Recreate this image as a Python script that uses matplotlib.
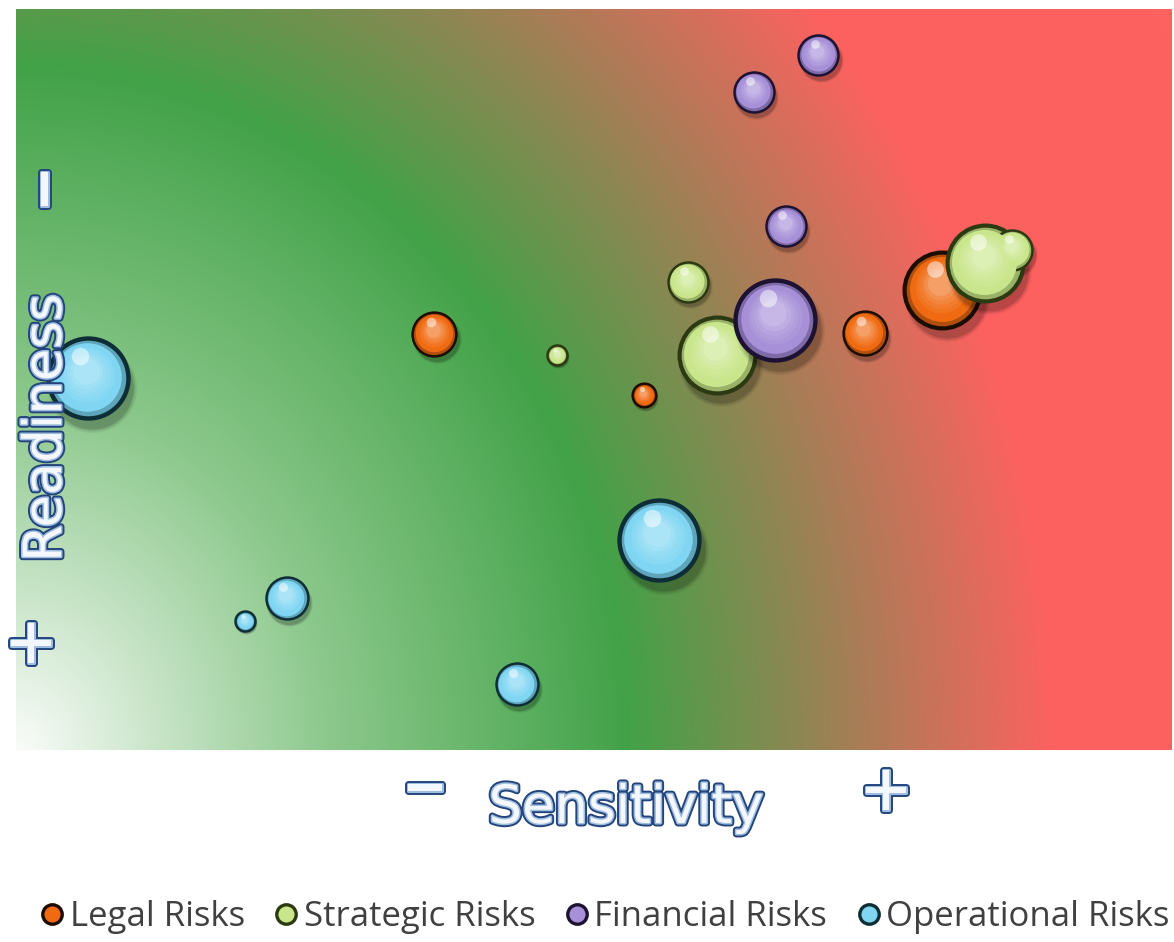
import numpy as np
import matplotlib
matplotlib.use("Agg")
import matplotlib.pyplot as plt
import matplotlib.patheffects as pe
from matplotlib.transforms import ScaledTranslation
from matplotlib.lines import Line2D

# ---- data -------------------------------------------------------------
series_names = ["Legal Risks", "Strategic Risks", "Financial Risks", "Operational Risks"]

legal_x = [36.2, 54.3, 73.4, 80.1]
legal_y = [56.2, 47.9, 56.3, 62.1]
legal_size = [4.8, 1.4, 4.8, 14.4]

strategic_x = [46.8, 58.1, 60.6, 83.8, 86.2]
strategic_y = [53.3, 63.2, 53.3, 65.7, 67.5]
strategic_size = [1.0, 4.0, 14.4, 14.4, 4.0]

financial_x = [63.8, 69.4, 66.6, 65.7]
financial_y = [88.8, 93.8, 70.7, 58.0]
financial_size = [4.0, 4.0, 4.0, 16.0]

operational_x = [6.2, 19.8, 23.4, 43.3, 55.6]
operational_y = [50.2, 17.4, 20.5, 8.9, 28.3]
operational_size = [16.0, 1.0, 4.4, 4.4, 16.0]

x_label = "Sensitivity"
y_label = "Readiness"

# ---- styling ----------------------------------------------------------
face_colors = ["#f06a12", "#c9e68c", "#a790d8", "#80d6f2"]
edge_colors = ["#1c0c02", "#2c3a12", "#1e1232", "#0e2e36"]
SIZE_SCALE = 207.0          # marker area (pt^2) per unit of bubble size

W, H, DPI = 11.74, 9.42, 100
fig = plt.figure(figsize=(W, H), dpi=DPI, facecolor="white")
ax = fig.add_axes([16 / 1174, 1 - 750 / 942, 1156 / 1174, 741 / 942])
ax.set_xlim(0, 100)
ax.set_ylim(0, 100)
ax.axis("off")

# ---- background: white -> green -> brown -> red path gradient ----------
nx, ny = 600, 400
gx = np.linspace(0, 100, nx)
gy = np.linspace(0, 100, ny)
GX, GY = np.meshgrid(gx, gy)
dx = GX * 11.56
dy = GY * 7.41
t = np.sqrt((dx / 624.0) ** 2 + (dy / 700.0) ** 2)
stops_t = [0.0, 0.5, 0.98, 1.34, 1.66, 3.0]
stops_c = np.array([
    [250, 252, 250],
    [140, 200, 140],
    [66, 162, 72],
    [165, 126, 86],
    [252, 98, 96],
    [255, 96, 96],
]) / 255.0
img = np.zeros((ny, nx, 3))
for ch in range(3):
    img[..., ch] = np.interp(t, stops_t, stops_c[:, ch])
ax.imshow(img, extent=(0, 100, 0, 100), origin="lower", aspect="auto",
          interpolation="bilinear", zorder=0)


def mix(c1, c2, f):
    a = np.array(matplotlib.colors.to_rgb(c1))
    b = np.array(matplotlib.colors.to_rgb(c2))
    return tuple(a * (1 - f) + b * f)


def offset(dx_pt, dy_pt):
    return ax.transData + ScaledTranslation(dx_pt / 72.0, dy_pt / 72.0, fig.dpi_scale_trans)


def glossy_bubbles(xs, ys, sizes, face, edge, z):
    for x, y, s in zip(xs, ys, sizes):
        area = SIZE_SCALE * s
        r = np.sqrt(area) / 2.0            # radius in points
        lw = max(1.8, r * 0.11)
        # soft drop shadow
        for sc, al in [(1.24, 0.06), (1.15, 0.09), (1.06, 0.14)]:
            ax.scatter([x], [y], s=area * sc, color="black", alpha=al, lw=0,
                       transform=offset(r * 0.12, -r * 0.24), zorder=z, clip_on=False)
        # body with dark rim
        ax.scatter([x], [y], s=area, color=mix(face, edge, 0.3),
                   edgecolors=edge, linewidths=lw, zorder=z + 0.1, clip_on=False)
        # shading towards a lighter centre
        n = 7
        for i in range(1, n + 1):
            f = i / n
            rr = (1 - 0.65 * f) * (r - lw * 0.5)
            col = mix(face, "white", 0.35 * f ** 2) if f > 0.3 else face
            ax.scatter([x], [y], s=(2 * rr) ** 2, color=col, lw=0,
                       transform=offset(-r * 0.05 * f, r * 0.18 * f),
                       zorder=z + 0.1 + 0.01 * i, clip_on=False)
        # specular highlight
        ax.scatter([x], [y], s=(2 * r * 0.22) ** 2, color="white", alpha=0.5, lw=0,
                   transform=offset(-r * 0.18, r * 0.55), zorder=z + 0.2, clip_on=False)


all_series = [
    (legal_x, legal_y, legal_size),
    (strategic_x, strategic_y, strategic_size),
    (financial_x, financial_y, financial_size),
    (operational_x, operational_y, operational_size),
]
for k, (xs, ys, ss) in enumerate(all_series):
    glossy_bubbles(xs, ys, ss, face_colors[k], edge_colors[k], z=2 + k)

# ---- outlined axis titles --------------------------------------------
outline = [pe.Stroke(linewidth=5, foreground="#24457c"),
           pe.Stroke(linewidth=2.2, foreground="#9fbde0"),
           pe.Normal()]
title_kw = dict(color="#f4f8fd", path_effects=outline, family="DejaVu Sans",
                ha="center", va="center", zorder=20)

fig.text(626 / 1174, 1 - 808 / 942, x_label, fontsize=38, **title_kw)
fig.text(425 / 1174, 1 - 790 / 942, "−", fontsize=40, fontweight="bold", **title_kw)
fig.text(886 / 1174, 1 - 792 / 942, "+", fontsize=46, **title_kw)

fig.text(46 / 1174, 1 - 428 / 942, y_label, fontsize=38, rotation=90, **title_kw)
fig.text(47 / 1174, 1 - 189 / 942, "−", fontsize=40, fontweight="bold", rotation=90, **title_kw)
fig.text(33 / 1174, 1 - 643 / 942, "+", fontsize=46, rotation=90, **title_kw)

# ---- legend ----------------------------------------------------------
handles = [Line2D([], [], linestyle="none", marker="o", markersize=14,
                  markerfacecolor=face_colors[k], markeredgecolor=edge_colors[k],
                  markeredgewidth=2.4)
           for k in range(4)]
fig.legend(handles, series_names, loc="center", bbox_to_anchor=(604 / 1174, 1 - 917 / 942),
           ncol=4, frameon=False, handletextpad=0.1, columnspacing=0.8,
           handlelength=0.8, prop={"family": "Open Sans", "size": 25},
           labelcolor="#404040")

fig.savefig("out.png", dpi=DPI, facecolor="white")
